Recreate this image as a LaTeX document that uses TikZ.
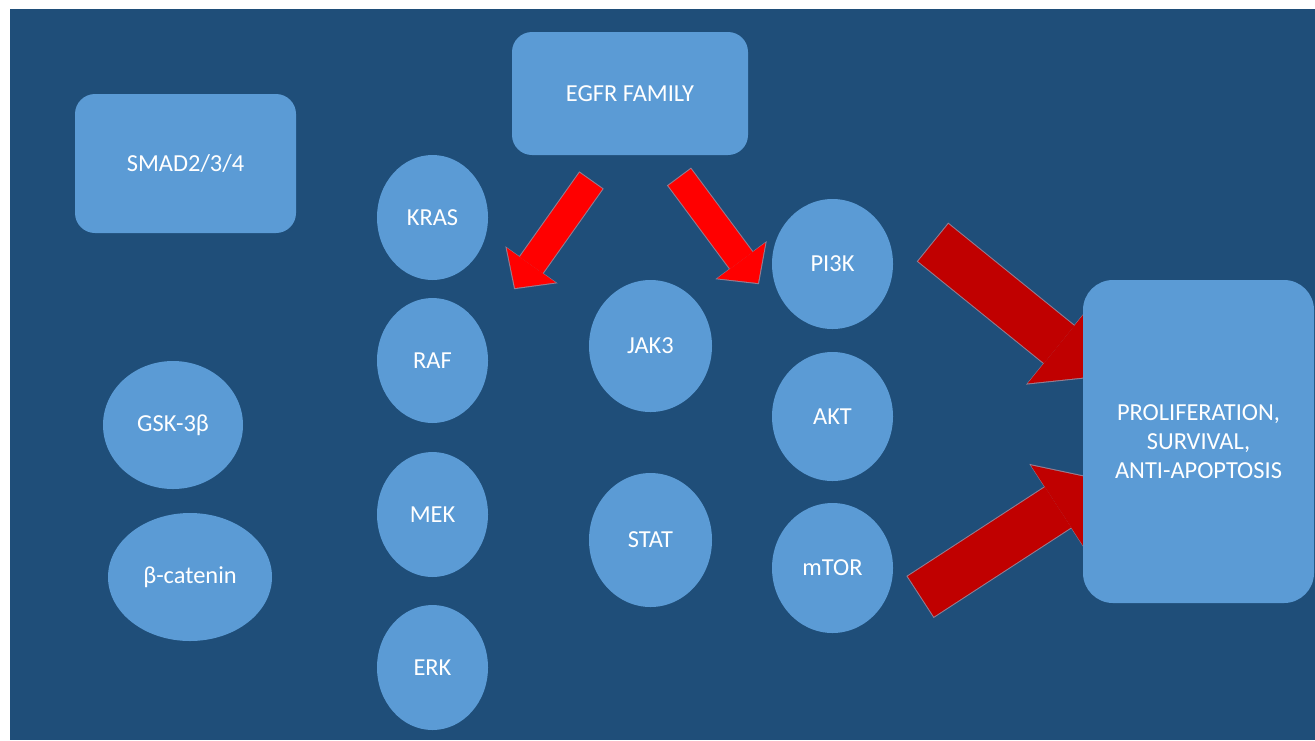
\documentclass[tikz,border=0pt]{standalone}
\usepackage{fontspec}
\setmainfont{Carlito}
\usetikzlibrary{shapes.geometric,arrows.meta}
\definecolor{slideblue}{HTML}{1F4E79}
\definecolor{cellblue}{HTML}{5B9BD5}
\definecolor{darkred}{HTML}{C00000}
\definecolor{edgegray}{RGB}{150,125,145}
\tikzset{
	cell/.style={ellipse, fill=cellblue, text=white, inner sep=0pt},
	panel/.style={rectangle, rounded corners=0.4cm, fill=cellblue, text=white, inner sep=0pt},
	signal/.style={line width=0.56cm, red, shorten <=0.02cm, -{Triangle[width=1.2cm,length=0.56cm,line width=0pt]}},
	signaledge/.style={line width=0.6cm, edgegray, shorten >=-0.03cm, -{Triangle[width=1.28cm,length=0.6cm,line width=0pt]}},
	output/.style={line width=0.96cm, darkred, shorten <=0.02cm, -{Triangle[width=2cm,length=1cm,line width=0pt]}},
	outputedge/.style={line width=1cm, edgegray, shorten >=-0.03cm, -{Triangle[width=2.08cm,length=1.04cm,line width=0pt]}}
}
\begin{document}
\begin{tikzpicture}[font=\fontsize{13.9pt}{16.5pt}\selectfont]
		\useasboundingbox (0,0) rectangle (26.3,-14.8);
		\fill[white] (0,0) rectangle (26.3,-14.8);
		\fill[slideblue] (0.19,-0.18) rectangle (26.3,-14.8);
		%arrow ends
		\coordinate (egfr-l) at (11.83,-3.6);
		\coordinate (ras-in) at (10.3,-5.76);
		\coordinate (egfr-r) at (13.58,-3.53);
		\coordinate (pi3k-in) at (15.16,-5.66);
		\coordinate (pi3k-out) at (18.65,-4.84);
		\coordinate (prolif-top) at (21.96,-7.52);
		\coordinate (mtor-out) at (18.4,-11.94);
		\coordinate (prolif-bot) at (22.0,-9.6);
		%EGFR arrows
		\draw[signaledge] (egfr-l) -- (ras-in);
		\draw[signal] (egfr-l) -- (ras-in);
		\draw[signaledge] (egfr-r) -- (pi3k-in);
		\draw[signal] (egfr-r) -- (pi3k-in);
		%output arrows
		\draw[outputedge] (pi3k-out) -- (prolif-top);
		\draw[output] (pi3k-out) -- (prolif-top);
		\draw[outputedge] (mtor-out) -- (prolif-bot);
		\draw[output] (mtor-out) -- (prolif-bot);
		%boxes
		\node[panel, minimum width=4.42cm, minimum height=2.78cm] (smad) at (3.71,-3.27) {SMAD2/3/4};
		\node[panel, minimum width=4.72cm, minimum height=2.46cm] (egfr) at (12.6,-1.87) {EGFR FAMILY};
		\node[panel, rounded corners=0.6cm, minimum width=4.62cm, minimum height=6.46cm, align=center] (prolif) at (23.97,-8.83) {PROLIFERATION,\\SURVIVAL,\\ANTI-APOPTOSIS};
		%Wnt
		\node[cell, minimum width=2.8cm, minimum height=2.56cm] (gsk) at (3.46,-8.5) {GSK-3β};
		\node[cell, minimum width=3.28cm, minimum height=2.56cm] (bcat) at (3.8,-11.54) {\makebox[0pt]{β-catenin}};
		%MAPK
		\node[cell, minimum width=2.22cm, minimum height=2.5cm] (kras) at (8.65,-4.35) {KRAS};
		\node[cell, minimum width=2.22cm, minimum height=2.5cm] (raf) at (8.65,-7.21) {RAF};
		\node[cell, minimum width=2.22cm, minimum height=2.5cm] (mek) at (8.65,-10.29) {MEK};
		\node[cell, minimum width=2.22cm, minimum height=2.5cm] (erk) at (8.65,-13.35) {ERK};
		%JAK/STAT
		\node[cell, minimum width=2.46cm, minimum height=2.64cm] (jak3) at (13.01,-6.92) {JAK3};
		\node[cell, minimum width=2.46cm, minimum height=2.68cm] (stat) at (13.01,-10.8) {STAT};
		%PI3K
		\node[cell, minimum width=2.42cm, minimum height=2.6cm] (pi3k) at (16.65,-5.28) {PI3K};
		\node[cell, minimum width=2.42cm, minimum height=2.58cm] (akt) at (16.65,-8.33) {AKT};
		\node[cell, minimum width=2.42cm, minimum height=2.6cm] (mtor) at (16.65,-11.36) {mTOR};
	\end{tikzpicture}
\end{document}
